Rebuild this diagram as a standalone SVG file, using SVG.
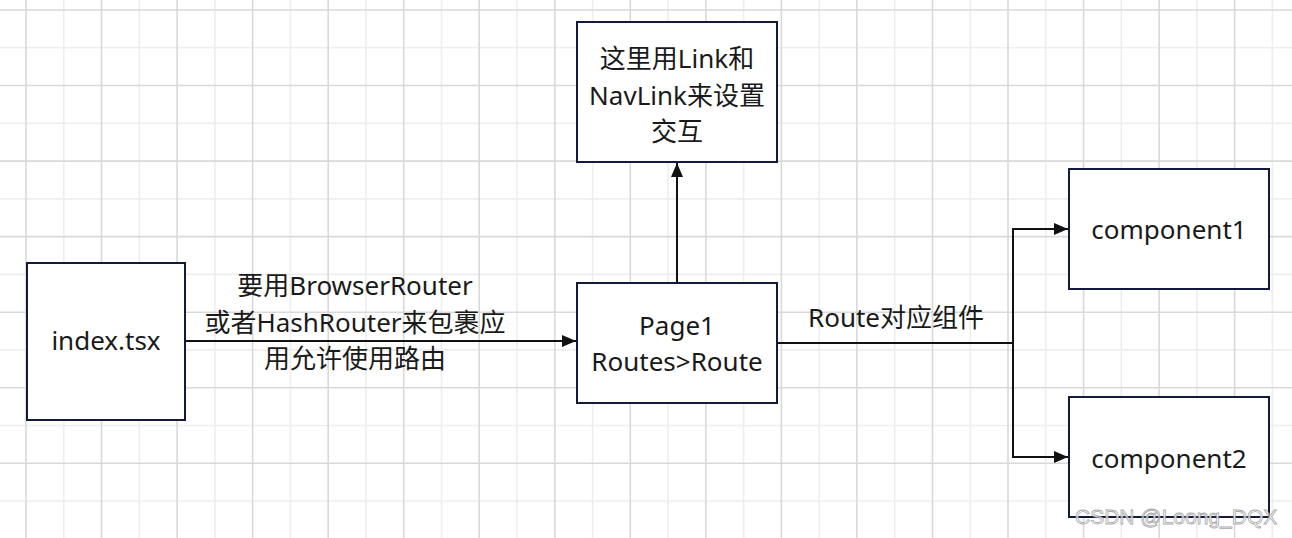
<svg xmlns="http://www.w3.org/2000/svg" width="1292" height="538" viewBox="0 0 1292 538">
<style>
.minor{stroke:#eeeeee;stroke-width:1.6;fill:none}
.major{stroke:#d9d9d9;stroke-width:1.6;fill:none}
.box{fill:#ffffff;stroke:#141a3c;stroke-width:2}
.t{font-family:"Noto Sans","Noto Sans CJK SC",sans-serif;font-size:26px;fill:#1a1a1a;text-anchor:middle}
.edge{stroke:#111111;stroke-width:2;fill:none}
.wm{font-family:"Liberation Sans","Noto Sans",sans-serif;font-size:21px;fill:#ffffff;stroke:#9a9a9a;stroke-width:0.8;opacity:0.85}
</style>
<defs>
<marker id="arr" viewBox="0 0 14 12" refX="14" refY="6" markerWidth="14" markerHeight="12" markerUnits="userSpaceOnUse" orient="auto">
<path d="M0,0 L14,6 L0,12 Z" fill="#111111"/>
</marker>
</defs>
<rect width="1292" height="538" fill="#ffffff"/>
<g id="grid">
<path class="minor" d="M63.8,0V538M139.3,0V538M214.9,0V538M290.4,0V538M365.9,0V538M441.5,0V538M517,0V538M592.6,0V538M668.1,0V538M743.6,0V538M819.2,0V538M894.7,0V538M970.3,0V538M1045.8,0V538M1121.3,0V538M1196.9,0V538M1272.4,0V538M0,47.8H1292M0,123.3H1292M0,198.9H1292M0,274.4H1292M0,349.9H1292M0,425.5H1292M0,501H1292"/>
<path class="major" d="M26,0V538M101.5,0V538M177.1,0V538M252.6,0V538M328.2,0V538M403.7,0V538M479.2,0V538M554.8,0V538M630.3,0V538M705.9,0V538M781.4,0V538M856.9,0V538M932.5,0V538M1008,0V538M1083.6,0V538M1159.1,0V538M1234.6,0V538M0,10H1292M0,85.5H1292M0,161.1H1292M0,236.6H1292M0,312.2H1292M0,387.7H1292M0,463.2H1292"/>
</g>
<g id="connectors">
<path class="edge" d="M185,341H576" marker-end="url(#arr)"/>
<text class="t" x="355" y="295">要用BrowserRouter</text>
<text class="t" x="355" y="332">或者HashRouter来包裹应</text>
<text class="t" x="355" y="368">用允许使用路由</text>
<path class="edge" d="M677,283V163" marker-end="url(#arr)"/>
<path class="edge" d="M777,343H1013"/>
<path class="edge" d="M1013,343V229H1068" marker-end="url(#arr)"/>
<path class="edge" d="M1013,343V457H1068" marker-end="url(#arr)"/>
<text class="t" x="896" y="327">Route对应组件</text>
</g>
<g id="index">
<rect class="box" x="27" y="263" width="158" height="157"/>
<text class="t" x="106" y="350">index.tsx</text>
</g>
<g id="nav">
<rect class="box" x="577" y="22" width="200" height="140"/>
<text class="t" x="677" y="68">这里用Link和</text>
<text class="t" x="677" y="105">NavLink来设置</text>
<text class="t" x="677" y="141">交互</text>
</g>
<g id="page1">
<rect class="box" x="577" y="283" width="200" height="120"/>
<text class="t" x="677" y="335">Page1</text>
<text class="t" x="677" y="371">Routes&gt;Route</text>
</g>
<g id="component1">
<rect class="box" x="1069" y="169" width="200" height="120"/>
<text class="t" x="1169" y="239">component1</text>
</g>
<g id="component2">
<rect class="box" x="1069" y="397" width="200" height="120"/>
<text class="t" x="1169" y="468">component2</text>
</g>
<text class="wm" x="1075" y="524">CSDN @Loong_DQX</text>
</svg>
